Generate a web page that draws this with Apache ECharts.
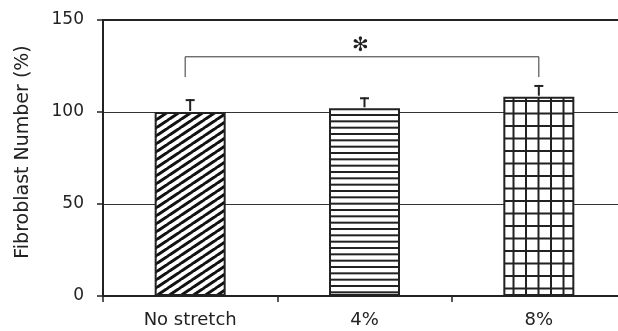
<!DOCTYPE html>
<html>
<head>
<meta charset="utf-8">
<script src="https://cdn.jsdelivr.net/npm/echarts@6/dist/echarts.min.js"></script>
<style>
html,body{margin:0;padding:0;background:#fff;overflow:hidden;width:618px;height:331px;}
#chart{width:630px;height:331px;}
</style>
</head>
<body>
<div id="chart"></div>
<script>
// ---- data ----
const categories = ['No stretch', '4%', '8%'];
const meanValues = [100, 102, 108.3];
const errorValues = [7, 6, 6.4];
const yTicks = [0, 50, 100, 150];
// significance bracket: from category 0 to category 2
const sigPair = [0, 2];
const bracketLevel = 130;
const bracketLegBottom = 119;
const asteriskLevel = 136;
const sigMark = '✻';

// ---- patterns ----
function makeDiag() {
  const c = document.createElement('canvas');
  c.width = 12; c.height = 8;
  const g = c.getContext('2d');
  g.fillStyle = '#fff'; g.fillRect(0, 0, 12, 8);
  g.strokeStyle = '#111'; g.lineWidth = 3;
  for (let k = -1; k <= 1; k++) {
    g.beginPath();
    g.moveTo(k * 12 - 1, 8 + 8 / 12);
    g.lineTo(k * 12 + 13, -8 / 12);
    g.stroke();
  }
  return c;
}
function makeHoriz() {
  const c = document.createElement('canvas');
  c.width = 4; c.height = 19;
  const g = c.getContext('2d');
  g.fillStyle = '#fff'; g.fillRect(0, 0, 4, 19);
  g.fillStyle = '#222';
  g.fillRect(0, 0, 4, 2);
  g.fillRect(0, 6.33, 4, 2);
  g.fillRect(0, 12.67, 4, 2);
  return c;
}
function makeGrid() {
  const c = document.createElement('canvas');
  c.width = 25; c.height = 25;
  const g = c.getContext('2d');
  g.fillStyle = '#fff'; g.fillRect(0, 0, 25, 25);
  g.fillStyle = '#222';
  g.fillRect(0, 0, 2, 25); g.fillRect(12.5, 0, 2, 25);
  g.fillRect(0, 0, 25, 2); g.fillRect(0, 12.5, 25, 2);
  return c;
}
const patterns = [makeDiag(), makeHoriz(), makeGrid()];

const chart = echarts.init(document.getElementById('chart'), null, {renderer: 'canvas'});
const font = 'DejaVu Sans';

const option = {
  animation: false,
  backgroundColor: '#fff',
  grid: {left: 103, top: 20, width: 523, height: 276, containLabel: false},
  xAxis: [{
    type: 'category',
    data: categories,
    position: 'bottom',
    axisLine: {lineStyle: {color: '#222', width: 2}},
    axisTick: {show: true, inside: false, length: 6, lineStyle: {color: '#222', width: 1.5}},
    axisLabel: {color: '#222', fontFamily: font, fontSize: 18, margin: 15},
    splitLine: {show: false}
  }, {
    type: 'category',
    data: categories,
    position: 'top',
    axisLine: {show: true, lineStyle: {color: '#222', width: 2}},
    axisTick: {show: false},
    axisLabel: {show: false},
    splitLine: {show: false}
  }],
  yAxis: {
    type: 'value',
    min: yTicks[0],
    max: yTicks[yTicks.length - 1],
    interval: yTicks[1] - yTicks[0],
    axisLine: {show: true, lineStyle: {color: '#222', width: 2}},
    axisTick: {show: true, inside: false, length: 6, lineStyle: {color: '#222', width: 1.5}},
    axisLabel: {color: '#222', fontFamily: font, fontSize: 17, margin: 19},
    splitLine: {show: true, lineStyle: {color: '#333', width: 1}}
  },
  graphic: [{
    type: 'text',
    x: 23, y: 152,
    rotation: Math.PI / 2,
    style: {
      text: 'Fibroblast Number (%)',
      fill: '#222',
      font: '19px "DejaVu Sans"',
      align: 'center',
      verticalAlign: 'middle'
    }
  }],
  series: [{
    type: 'bar',
    barWidth: 71,
    data: meanValues.map((v, i) => ({
      value: v,
      itemStyle: {
        color: {image: patterns[i], repeat: 'repeat'},
        borderColor: '#222',
        borderWidth: 2
      }
    })),
    z: 2
  }, {
    type: 'custom',
    data: meanValues.map((v, i) => [i, v, errorValues[i]]),
    renderItem: function (params, api) {
      const base = api.coord([api.value(0), api.value(1)]);
      const top = api.coord([api.value(0), api.value(1) + api.value(2)]);
      return {
        type: 'group',
        children: [{
          type: 'line',
          shape: {x1: base[0], y1: base[1] - 1, x2: top[0], y2: top[1]},
          style: {stroke: '#222', lineWidth: 2}
        }, {
          type: 'line',
          shape: {x1: top[0] - 4.5, y1: top[1] + 1, x2: top[0] + 4.5, y2: top[1] + 1},
          style: {stroke: '#222', lineWidth: 2}
        }]
      };
    },
    z: 3
  }, {
    type: 'custom',
    data: [[sigPair[0], sigPair[1], bracketLevel, bracketLegBottom, asteriskLevel]],
    renderItem: function (params, api) {
      const a = api.value(0), b = api.value(1);
      const lvl = api.value(2), leg = api.value(3), ast = api.value(4);
      const p1 = api.coord([a, leg]);
      const p2 = api.coord([a, lvl]);
      const p3 = api.coord([b, lvl]);
      const p4 = api.coord([b, leg]);
      const mid = api.coord([(a + b) / 2, ast]);
      return {
        type: 'group',
        children: [{
          type: 'polyline',
          shape: {points: [[p1[0] - 5, p1[1]], [p2[0] - 5, p2[1]], p3, p4]},
          style: {stroke: '#333', lineWidth: 1, fill: null}
        }, {
          type: 'text',
          x: mid[0] - 4, y: mid[1],
          style: {
            text: sigMark,
            fill: '#222',
            font: 'bold 20px "DejaVu Sans"',
            align: 'center',
            verticalAlign: 'middle'
          }
        }]
      };
    },
    z: 4
  }]
};
chart.setOption(option);
</script>
</body>
</html>
